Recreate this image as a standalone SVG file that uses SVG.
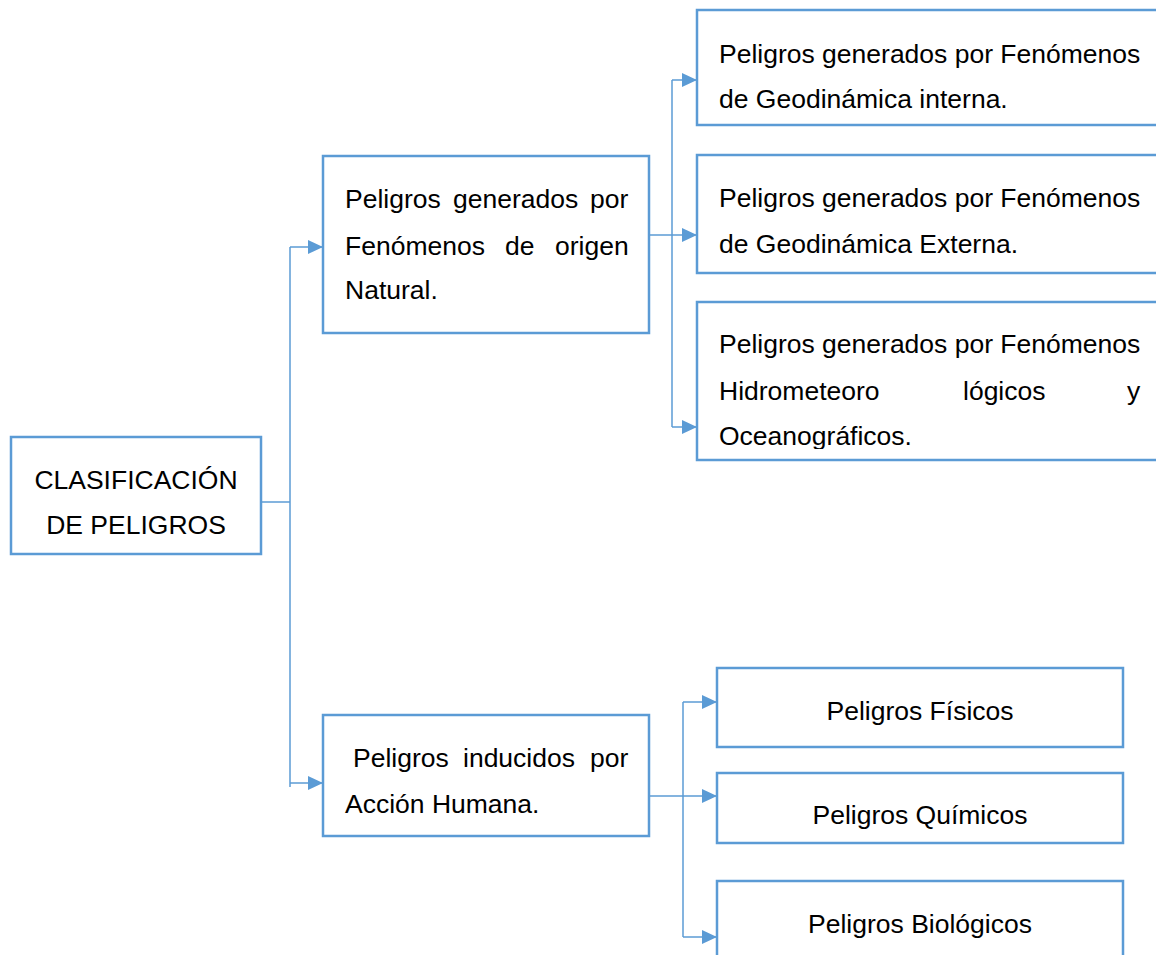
<svg xmlns="http://www.w3.org/2000/svg" width="1156" height="955" viewBox="0 0 1156 955">
<style>
.box{fill:#ffffff;stroke:#5b9bd5;stroke-width:2.5}
.t{font-family:"Liberation Sans",Arial,sans-serif;font-size:26.5px;fill:#000000}
.c{fill:none;stroke:#5b9bd5;stroke-width:1.5}
</style>
<defs>
<marker id="ah" markerUnits="userSpaceOnUse" markerWidth="15" markerHeight="14" refX="15" refY="7" orient="auto">
<path d="M0,0 L15,7 L0,14 z" fill="#5b9bd5"/>
</marker>
<clipPath id="clipG3"><rect x="697" y="302" width="470" height="147"/></clipPath>
</defs>
<rect width="1156" height="955" fill="#ffffff"/>
<g id="connectors">
<path class="c" d="M261,502 H290"/>
<path class="c" d="M290,247 V787"/>
<path class="c" d="M290,247 H323" marker-end="url(#ah)"/>
<path class="c" d="M290,783 H323" marker-end="url(#ah)"/>
<path class="c" d="M649,235 H697" marker-end="url(#ah)"/>
<path class="c" d="M672,80 V427"/>
<path class="c" d="M672,80 H697" marker-end="url(#ah)"/>
<path class="c" d="M672,427 H697" marker-end="url(#ah)"/>
<path class="c" d="M649,796 H717" marker-end="url(#ah)"/>
<path class="c" d="M683,702 V937"/>
<path class="c" d="M683,702 H717" marker-end="url(#ah)"/>
<path class="c" d="M683,937 H717" marker-end="url(#ah)"/>
</g>
<g id="root">
<rect class="box" x="11" y="437" width="250" height="117"/>
<text class="t" x="136" y="489" text-anchor="middle">CLASIFICACIÓN</text>
<text class="t" x="136" y="534" text-anchor="middle">DE PELIGROS</text>
</g>
<g id="natural">
<rect class="box" x="323" y="156" width="326" height="177"/>
<text class="t" y="208"><tspan x="345">Peligros</tspan><tspan x="453">generados</tspan><tspan x="590">por</tspan></text>
<text class="t" y="255"><tspan x="345">Fenómenos</tspan><tspan x="505">de</tspan><tspan x="555">origen</tspan></text>
<text class="t" x="345" y="299">Natural.</text>
</g>
<g id="humana">
<rect class="box" x="323" y="715" width="326" height="121"/>
<text class="t" y="767"><tspan x="353">Peligros</tspan><tspan x="463">inducidos</tspan><tspan x="590">por</tspan></text>
<text class="t" x="345" y="813">Acción Humana.</text>
</g>
<g id="geo-interna">
<rect class="box" x="697" y="10" width="470" height="115"/>
<text class="t" x="719" y="63">Peligros generados por Fenómenos</text>
<text class="t" x="719" y="108">de Geodinámica interna.</text>
</g>
<g id="geo-externa">
<rect class="box" x="697" y="155" width="470" height="118"/>
<text class="t" x="719" y="207">Peligros generados por Fenómenos</text>
<text class="t" x="719" y="253">de Geodinámica Externa.</text>
</g>
<g id="hidro">
<rect class="box" x="697" y="302" width="470" height="158"/>
<g clip-path="url(#clipG3)">
<text class="t" x="719" y="353">Peligros generados por Fenómenos</text>
<text class="t" y="400"><tspan x="719">Hidrometeoro</tspan><tspan x="963">lógicos</tspan><tspan x="1127">y</tspan></text>
<text class="t" x="719" y="445">Oceanográficos.</text>
</g>
</g>
<g id="fisicos">
<rect class="box" x="717" y="668" width="406" height="79"/>
<text class="t" x="920" y="720" text-anchor="middle">Peligros Físicos</text>
</g>
<g id="quimicos">
<rect class="box" x="717" y="773" width="406" height="70"/>
<text class="t" x="920" y="824" text-anchor="middle">Peligros Químicos</text>
</g>
<g id="biologicos">
<rect class="box" x="717" y="881" width="406" height="90"/>
<text class="t" x="920" y="933" text-anchor="middle">Peligros Biológicos</text>
</g>
</svg>
